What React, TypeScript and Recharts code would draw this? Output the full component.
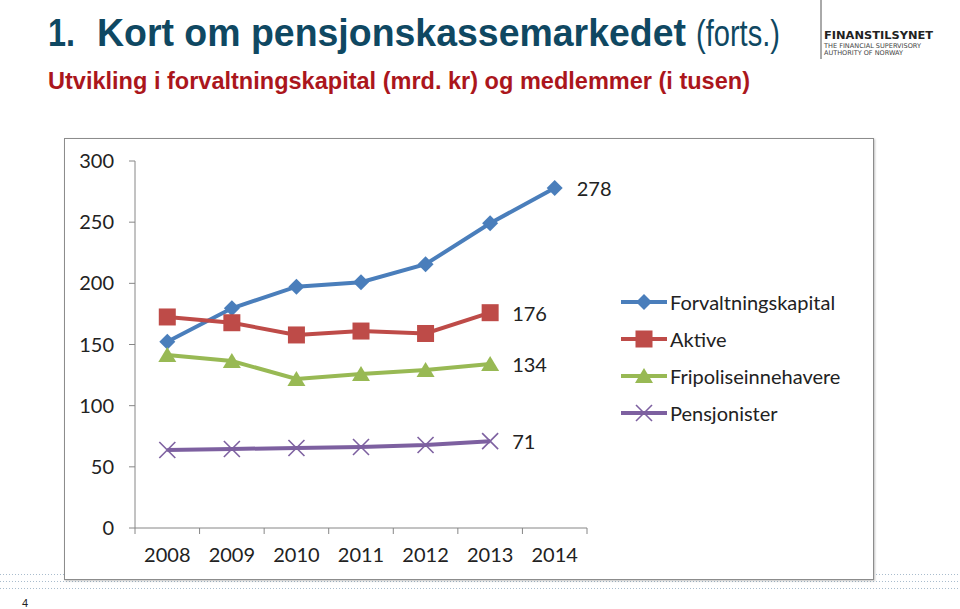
import { LineChart, Line, XAxis, YAxis, Legend, LabelList } from "recharts";

const years = ["2008", "2009", "2010", "2011", "2012", "2013", "2014"];
const forvaltningskapital = [152.3, 179.6, 197.3, 200.9, 215.6, 249.1, 278];
const aktive = [172.5, 167.8, 157.8, 161, 159, 176, null];
const fripoliseinnehavere = [141.4, 136.5, 121.8, 125.9, 129.2, 134, null];
const pensjonister = [63.8, 64.6, 65.4, 66.2, 67.8, 71, null];
const yTicks = [0, 50, 100, 150, 200, 250, 300];

const BLUE = "#4a7ebb";
const RED = "#be4b48";
const GREEN = "#98b954";
const PURPLE = "#7d60a0";
const FONT = "Lato, 'Open Sans', sans-serif";
const FS = 20;

const W = 810;
const H = 442;
const LEGEND_W = 250;
const X_H = 30;
// recharts adds the legend width and x-axis height back on its own
const M = { top: 23, right: 287 - LEGEND_W, bottom: 52 - X_H, left: 0 };
const Y_W = 71;
const STEP = (W - 287 - Y_W) / years.length;

const data = years.map((year, i) => ({
  year,
  forvaltningskapital: forvaltningskapital[i],
  aktive: aktive[i],
  fripoliseinnehavere: fripoliseinnehavere[i],
  pensjonister: pensjonister[i],
}));

type Shape = "diamond" | "square" | "triangle" | "cross";

function Marker({ cx, cy, shape, color }: { cx: number; cy: number; shape: Shape; color: string }) {
  if (shape === "diamond")
    return <polygon points={`${cx},${cy - 8} ${cx + 8},${cy} ${cx},${cy + 8} ${cx - 8},${cy}`} fill={color} />;
  if (shape === "square") return <rect x={cx - 8.5} y={cy - 8.5} width={17} height={17} fill={color} />;
  if (shape === "triangle")
    return <polygon points={`${cx},${cy - 8} ${cx + 9},${cy + 7} ${cx - 9},${cy + 7}`} fill={color} />;
  return (
    <g stroke={color} strokeWidth={1.6}>
      <line x1={cx - 8} y1={cy - 8} x2={cx + 8} y2={cy + 8} />
      <line x1={cx - 8} y1={cy + 8} x2={cx + 8} y2={cy - 8} />
    </g>
  );
}

const series: { key: string; name: string; color: string; shape: Shape; values: (number | null)[] }[] = [
  { key: "forvaltningskapital", name: "Forvaltningskapital", color: BLUE, shape: "diamond", values: forvaltningskapital },
  { key: "aktive", name: "Aktive", color: RED, shape: "square", values: aktive },
  { key: "fripoliseinnehavere", name: "Fripoliseinnehavere", color: GREEN, shape: "triangle", values: fripoliseinnehavere },
  { key: "pensjonister", name: "Pensjonister", color: PURPLE, shape: "cross", values: pensjonister },
];

function dotFor(shape: Shape, color: string) {
  return (p: any) => {
    if (p.cy == null || p.value == null) return <g key={p.index} />;
    return (
      <g key={p.index}>
        <Marker cx={p.cx} cy={p.cy} shape={shape} color={color} />
      </g>
    );
  };
}

function lastLabel(values: (number | null)[]) {
  const last = values.reduce((acc: number, v, i) => (v != null ? i : acc), 0);
  return (p: any) => {
    if (p.index !== last) return null;
    return (
      <text x={p.x + 22} y={p.y} dominantBaseline="central" fontSize={FS} fontFamily={FONT} fill="#222">
        {Math.round(p.value)}
      </text>
    );
  };
}

function XTick({ x, y, payload, index }: any) {
  return (
    <g>
      <line x1={x - STEP / 2} y1={y - 6} x2={x - STEP / 2} y2={y} stroke="#868686" />
      {index === years.length - 1 && <line x1={x + STEP / 2} y1={y - 6} x2={x + STEP / 2} y2={y} stroke="#868686" />}
      <text x={x} y={y + 20} textAnchor="middle" dominantBaseline="central" fontSize={FS} fontFamily={FONT} fill="#222">
        {payload.value}
      </text>
    </g>
  );
}

function LegendBox() {
  return (
    <div style={{ fontFamily: FONT, fontSize: FS, color: "#222" }}>
      {series.map((s) => (
        <div key={s.key} style={{ display: "flex", alignItems: "center", height: 37 }}>
          <svg width={50} height={20} style={{ flex: "none" }}>
            <line x1={1} y1={10} x2={47} y2={10} stroke={s.color} strokeWidth={4} />
            <Marker cx={24} cy={10} shape={s.shape} color={s.color} />
          </svg>
          <span>{s.name}</span>
        </div>
      ))}
    </div>
  );
}

const sans = "'Liberation Sans', Arial, sans-serif";

export default function App() {
  return (
    <div style={{ position: "absolute", left: 0, top: 0, width: 960, height: 609, background: "#fff", overflow: "hidden" }}>
      <svg width={960} height={110} style={{ position: "absolute", left: 0, top: 0 }}>
        <text x={48} y={46} fontFamily={sans} fontWeight="bold" fontSize={39} fill="#0f4862" textLength={27} lengthAdjust="spacingAndGlyphs">
          1.
        </text>
        <text x={97} y={46} fontFamily={sans} fontWeight="bold" fontSize={38} fill="#0f4862" textLength={589} lengthAdjust="spacingAndGlyphs">
          Kort om pensjonskassemarkedet
        </text>
        <text x={696} y={46} fontFamily={sans} fontSize={37} fill="#0f4862" textLength={84} lengthAdjust="spacingAndGlyphs">
          (forts.)
        </text>
        <text x={48} y={89} fontFamily={sans} fontWeight="bold" fontSize={24} fill="#ab161c" textLength={702} lengthAdjust="spacingAndGlyphs">
          Utvikling i forvaltningskapital (mrd. kr) og medlemmer (i tusen)
        </text>
        <line x1={821} y1={0} x2={821} y2={59} stroke="#555" strokeWidth={1} />
        <text x={824} y={39} fontFamily="'DejaVu Sans', sans-serif" fontWeight="bold" fontSize={10} fill="#222" textLength={109} lengthAdjust="spacingAndGlyphs">
          FINANSTILSYNET
        </text>
        <text x={824} y={48} fontFamily="'DejaVu Sans', sans-serif" fontSize={6.5} fill="#444" textLength={97} lengthAdjust="spacingAndGlyphs">
          THE FINANCIAL SUPERVISORY
        </text>
        <text x={824} y={55} fontFamily="'DejaVu Sans', sans-serif" fontSize={6.5} fill="#444" textLength={79} lengthAdjust="spacingAndGlyphs">
          AUTHORITY OF NORWAY
        </text>
      </svg>

      {[574, 581, 588].map((y) => (
        <div
          key={y}
          style={{
            position: "absolute",
            left: 0,
            top: y,
            width: 960,
            height: 1,
            background: "repeating-linear-gradient(to right, #a9bccd 0 1px, transparent 1px 3px)",
          }}
        />
      ))}

      <div
        style={{
          position: "absolute",
          left: 64,
          top: 138,
          width: W,
          height: H,
          border: "1px solid #8c8c8c",
          boxShadow: "1px 1px 2px rgba(0,0,0,0.25)",
          background: "#fff",
          boxSizing: "border-box",
        }}
      >
        <div style={{ position: "absolute", left: -1, top: -1 }}>
          <LineChart width={W} height={H} data={data} margin={M}>
            <XAxis
              dataKey="year"
              height={X_H}
              padding={{ left: STEP / 2, right: STEP / 2 }}
              axisLine={{ stroke: "#868686" }}
              tickLine={false}
              tickSize={6}
              tickMargin={0}
              tick={<XTick />}
              interval={0}
            />
            <YAxis
              width={Y_W}
              domain={[0, 300]}
              ticks={yTicks}
              axisLine={{ stroke: "#868686" }}
              tickLine={{ stroke: "#868686" }}
              tickSize={6}
              tickMargin={15}
              tick={{ fontSize: FS, fontFamily: FONT, fill: "#222" }}
            />
            <Legend
              layout="vertical"
              verticalAlign="middle"
              align="right"
              width={LEGEND_W}
              content={<LegendBox />}
              wrapperStyle={{ left: 556, top: 145, width: LEGEND_W }}
            />
            {series.map((s) => (
              <Line
                key={s.key}
                type="linear"
                dataKey={s.key}
                name={s.name}
                stroke={s.color}
                strokeWidth={4}
                dot={dotFor(s.shape, s.color)}
                activeDot={false}
                isAnimationActive={false}
              >
                <LabelList dataKey={s.key} content={lastLabel(s.values)} />
              </Line>
            ))}
          </LineChart>
        </div>
      </div>

      <div style={{ position: "absolute", left: 22, top: 597, fontFamily: sans, fontSize: 11, color: "#222" }}>
        4
      </div>
    </div>
  );
}
